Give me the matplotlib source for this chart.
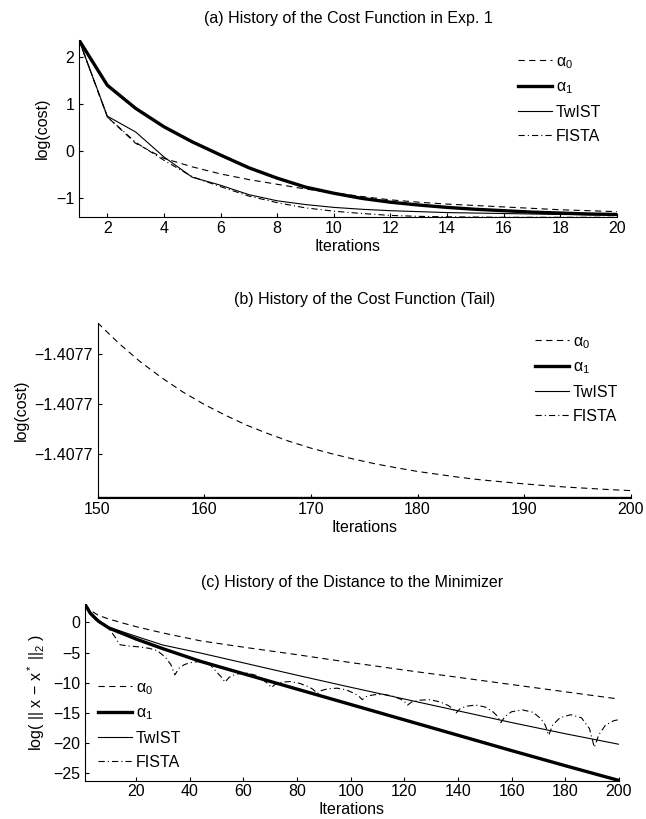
import numpy as np
import matplotlib
matplotlib.use("Agg")
import matplotlib.pyplot as plt

plt.rcParams['font.family'] = ['Liberation Sans', 'DejaVu Sans']
plt.rcParams['mathtext.fontset'] = 'custom'
plt.rcParams['mathtext.rm'] = 'Liberation Sans'
plt.rcParams['mathtext.it'] = 'Liberation Sans'
plt.rcParams['mathtext.bf'] = 'Liberation Sans:bold'
plt.rcParams['lines.scale_dashes'] = False
plt.rcParams['font.size'] = 11.5

labels = [r'$\alpha_0$', r'$\alpha_1$', 'TwIST', 'FISTA']

# (a) first 20 iterations, log(cost)
iters_a = list(range(1, 21))
cost_alpha0 = [2.35, 0.72, 0.16, -0.16, -0.34, -0.49, -0.61, -0.71, -0.81, -0.89,
               -0.97, -1.04, -1.09, -1.13, -1.16, -1.19, -1.22, -1.25, -1.27, -1.29]
cost_alpha1 = [2.35, 1.39, 0.90, 0.51, 0.19, -0.09, -0.36, -0.58, -0.77, -0.90,
               -1.01, -1.09, -1.15, -1.20, -1.24, -1.27, -1.30, -1.32, -1.34, -1.35]
cost_twist = [2.35, 0.735, 0.40, -0.13, -0.56, -0.73, -0.93, -1.06, -1.14, -1.20,
              -1.24, -1.27, -1.29, -1.31, -1.32, -1.33, -1.34, -1.35, -1.355, -1.36]
cost_fista = [2.35, 0.72, 0.18, -0.20, -0.55, -0.76, -0.96, -1.10, -1.21, -1.28,
              -1.33, -1.37, -1.39, -1.40, -1.405, -1.41, -1.41, -1.41, -1.41, -1.41]

# (b) tail of log(cost); values are offsets above tail_base in units of 1e-6
tail_base = -1.4077078
iters_b = list(range(150, 201, 2))
tail_alpha0 = [7.07, 6.24, 5.50, 4.86, 4.28, 3.78, 3.34, 2.94, 2.60, 2.29,
               2.02, 1.79, 1.58, 1.39, 1.23, 1.08, 0.96, 0.84, 0.74, 0.66,
               0.58, 0.51, 0.45, 0.40, 0.35, 0.31]
iters_b_flat = [150, 175, 200]
tail_alpha1 = [0.0, 0.0, 0.0]
tail_twist = [0.0, 0.0, 0.0]
tail_fista = [0.01, 0.01, 0.0]
tail_ticks = [-1.407706, -1.407704, -1.407702]

# (c) log(||x - x*||_2)
iters_c = [1, 3, 6, 10, 15, 20, 30, 44, 60, 80, 100, 120, 140, 160, 180, 200]
dist_alpha0 = [3.0, 2.0, 1.16, 0.55, -0.1, -0.7, -1.75, -3.05, -4.1, -5.35,
               -6.65, -7.9, -9.1, -10.3, -11.5, -12.7]
dist_alpha1 = [3.0, 1.5, 0.2, -0.95, -1.85, -2.75, -4.35, -6.45, -8.5, -11.05,
               -13.6, -16.15, -18.7, -21.25, -23.75, -26.2]
dist_twist = [3.0, 1.55, 0.3, -0.8, -1.55, -2.3, -3.75, -5.07, -6.7, -8.75,
              -10.75, -12.7, -14.65, -16.6, -18.45, -20.2]
iters_fista = [1, 3, 5, 7, 9.7, 12, 14, 17, 21, 25, 28, 31, 33, 34.5, 36, 38, 40, 43, 46,
               48, 50, 51.7, 53.2, 54.7, 57, 61, 65, 67.5, 69, 70.5, 72, 74.5, 77.5, 81,
               84.5, 86, 87.6, 89, 91.5, 95, 98.5, 101.5, 103, 104.3, 105.8, 108.5, 112,
               115.5, 118.5, 120, 121.2, 122.7, 125.5, 129.5, 133.5, 136.5, 138, 139.3,
               140.8, 143, 146.5, 150, 153, 154.6, 156, 157.5, 160, 164, 168, 171, 172.5,
               173.8, 175.3, 178, 182, 186, 189, 190.8, 192.5, 195, 198, 200]
dist_fista = [3.0, 1.5, 0.4, -0.2, -0.9, -2.3, -3.7, -3.9, -4.05, -4.3, -4.7, -5.8, -7.0,
              -8.7, -7.6, -7.0, -6.7, -6.5, -6.6, -7.2, -8.2, -9.0, -9.9, -9.1, -8.6,
              -8.35, -8.8, -9.6, -10.1, -10.8, -10.2, -9.9, -9.8, -10.1, -10.7, -11.1,
              -11.8, -11.3, -11.0, -10.9, -11.2, -11.8, -12.2, -12.8, -12.3, -12.0,
              -11.9, -12.2, -12.7, -13.1, -13.7, -13.2, -12.9, -12.8, -13.2, -13.8,
              -14.3, -15.0, -14.3, -13.9, -13.7, -14.0, -14.8, -15.5, -16.6, -15.6,
              -14.8, -14.5, -14.9, -16.0, -17.0, -18.7, -17.0, -15.8, -15.3, -15.8,
              -17.6, -20.7, -18.6, -17.0, -16.3, -16.1]

styles = [dict(color='k', lw=0.8, dashes=(4.5, 3.2)),
          dict(color='k', lw=2.4),
          dict(color='k', lw=0.8),
          dict(color='k', lw=0.8, dashes=(4.5, 2.2, 0.8, 2.2))]

W, H = 646, 819
fig = plt.figure(figsize=(W / 100, H / 100), dpi=100)


def make_axes(left, right, top, bottom):
    ax = fig.add_axes([left / W, 1 - bottom / H, (right - left) / W, (bottom - top) / H])
    ax.spines['top'].set_visible(False)
    ax.spines['right'].set_visible(False)
    for s in ['left', 'bottom']:
        ax.spines[s].set_linewidth(0.8)
    ax.tick_params(direction='in', length=3, width=0.8, top=False, right=False)
    ax.tick_params(axis='x', pad=2.5)
    ax.tick_params(axis='y', pad=3.5)
    return ax


def add_legend(ax, x, y):
    ax.legend(labels, loc='upper left', bbox_to_anchor=(x / W, 1 - y / H),
              bbox_transform=fig.transFigure, frameon=False, borderpad=0,
              borderaxespad=0, handlelength=2.1, handletextpad=0.25,
              labelspacing=0.55, fontsize=11.5)


# panel (a)
ax1 = make_axes(79, 617, 40, 217.3)
for ys, st in zip([cost_alpha0, cost_alpha1, cost_twist, cost_fista], styles):
    ax1.plot(iters_a, ys, **st)
ax1.set_xlim(1, 20)
ax1.set_ylim(-1.41, 2.35)
ax1.set_xticks(range(2, 21, 2))
ax1.set_yticks([-1, 0, 1, 2])
ax1.set_title('(a) History of the Cost Function in Exp. 1', pad=12, fontsize=11.5)
ax1.set_xlabel('Iterations', labelpad=2)
ax1.set_ylabel('log(cost)')
add_legend(ax1, 518, 54)

# panel (b)
ax2 = make_axes(97.5, 631, 322.7, 498.3)
ax2.plot(iters_b, tail_base + np.array(tail_alpha0) * 1e-6, **styles[0])
for ys, st in zip([tail_alpha1, tail_twist, tail_fista], styles[1:]):
    ax2.plot(iters_b_flat, tail_base + np.array(ys) * 1e-6, **st)
ax2.set_xlim(150, 200)
ax2.set_ylim(tail_base, tail_base + tail_alpha0[0] * 1e-6)
ax2.set_xticks(range(150, 201, 10))
ax2.set_yticks(tail_ticks)
ax2.set_yticklabels(['\u22121.4077'] * len(tail_ticks))
ax2.set_title('(b) History of the Cost Function (Tail)', pad=13.5, fontsize=11.5)
ax2.set_xlabel('Iterations', labelpad=2)
ax2.set_ylabel('log(cost)')
add_legend(ax2, 535, 334)

# panel (c)
ax3 = make_axes(85, 619, 604.3, 780.5)
ax3.plot(iters_c, dist_alpha0, **styles[0])
ax3.plot(iters_c, dist_alpha1, **styles[1])
ax3.plot(iters_c, dist_twist, **styles[2])
ax3.plot(iters_fista, dist_fista, **styles[3])
ax3.set_xlim(1, 200)
ax3.set_ylim(-26.2, 3.0)
ax3.set_xticks(range(20, 201, 20))
ax3.set_yticks([-25, -20, -15, -10, -5, 0])
ax3.set_title('(c) History of the Distance to the Minimizer', pad=12.7, fontsize=11.5)
ax3.set_xlabel('Iterations', labelpad=2)
ax3.set_ylabel('log( || x \u2212 x$^*$ ||$_2$ )')
add_legend(ax3, 98, 680)

fig.savefig('out.png', dpi=100)
